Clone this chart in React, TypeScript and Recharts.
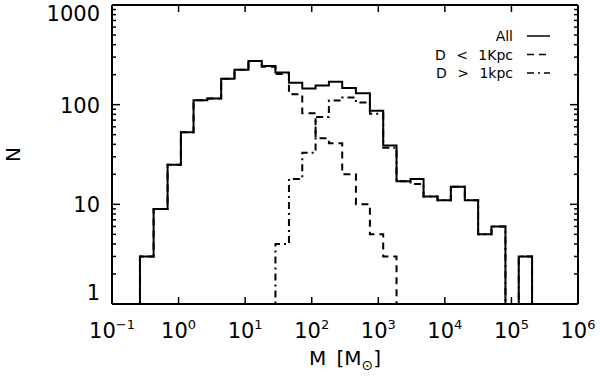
import React from 'react';
import { LineChart, Line, XAxis, YAxis, ReferenceLine, Legend } from 'recharts';

// log10(M) of the histogram bin edges
const binEdgesLog = [
  -0.58, -0.375, -0.165, 0.035, 0.225, 0.432, 0.64, 0.84, 1.05, 1.25,
  1.455, 1.658, 1.858, 2.058, 2.258, 2.458, 2.664, 2.874, 3.074, 3.274,
  3.484, 3.68, 3.89, 4.09, 4.3, 4.5, 4.7, 4.91, 5.11, 5.31,
];
// counts per bin (one fewer than edges)
const countsAll = [3, 9, 25, 53, 111, 115, 182, 224, 275, 244, 210, 166, 145, 156, 170, 147, 130, 87, 39, 17, 18, 12, 11, 15, 11, 5, 6, 0, 3];
const countsNear = [3, 9, 25, 53, 111, 115, 182, 224, 275, 240, 203, 127, 82, 46, 41, 20, 10, 5, 3, 0, 0, 0, 0, 0, 0, 0, 0, 0, 0];
const countsFar = [0, 0, 0, 0, 0, 0, 0, 0, 0, 0, 4, 18, 33, 75, 110, 118, 105, 81, 37, 17, 16, 12, 11, 15, 11, 5, 6, 0, 3];

const xDomain = [0.1, 1e6];
const yDomain = [1, 1000];
const xTicks = [0.1, 1, 10, 100, 1000, 1e4, 1e5, 1e6];
const yMajor = [1, 10, 100, 1000];
const yTicks = [
  1, 2, 3, 4, 5, 6, 7, 8, 9,
  10, 20, 30, 40, 50, 60, 70, 80, 90,
  100, 200, 300, 400, 500, 600, 700, 800, 900,
  1000,
];

const seriesDefs = [
  { key: 'all', name: 'All', dash: undefined as string | undefined },
  { key: 'near', name: 'D < 1Kpc', dash: '7 5' },
  { key: 'far', name: 'D > 1kpc', dash: '7 4 2 4' },
];

const W = 600;
const H = 376;
const MARGIN = { top: 5, right: 22, left: 0, bottom: 0 };
const YAXIS_W = 112;
const XAXIS_H = 72;
const PLOT_RIGHT = W - MARGIN.right;
const PLOT_TOP = MARGIN.top;
const FONT = '"DejaVu Sans", sans-serif';

const clip = (v: number | undefined) => Math.max(v ?? 0, yDomain[0]);

const data = [
  { m: xDomain[0], all: clip(0), near: clip(0), far: clip(0) },
  ...binEdgesLog.map((e, i) => ({
    m: Math.pow(10, e),
    all: clip(countsAll[i]),
    near: clip(countsNear[i]),
    far: clip(countsFar[i]),
  })),
  { m: xDomain[1], all: clip(0), near: clip(0), far: clip(0) },
];

const XTick = (props: any) => {
  const { x, y, payload } = props;
  const exp = Math.round(Math.log10(payload.value));
  const expStr = exp < 0 ? '\u2212' + Math.abs(exp) : String(exp);
  return (
    <g>
      <line x1={x} x2={x} y1={y} y2={y - 7} stroke="#000" strokeWidth={1.5} />
      <line x1={x} x2={x} y1={PLOT_TOP} y2={PLOT_TOP + 7} stroke="#000" strokeWidth={1.5} />
      <text x={x} y={y + 34} textAnchor="middle" fontFamily={FONT} fontSize={21} fill="#000">
        10
        <tspan dy={-9} fontSize={13}>{expStr}</tspan>
      </text>
    </g>
  );
};

const YTick = (props: any) => {
  const { x, y, payload } = props;
  const v = payload.value;
  const major = yMajor.includes(v);
  const len = major ? 8 : 4;
  let shift = 0;
  if (v === yDomain[0]) shift = -12;
  if (v === yDomain[1]) shift = 8;
  return (
    <g>
      <line x1={x} x2={x + len} y1={y} y2={y} stroke="#000" strokeWidth={1.5} />
      <line x1={PLOT_RIGHT} x2={PLOT_RIGHT - len} y1={y} y2={y} stroke="#000" strokeWidth={1.5} />
      {major && (
        <text x={x - 12} y={y + shift + 8} textAnchor="end" fontFamily={FONT} fontSize={21} fill="#000">
          {v}
        </text>
      )}
    </g>
  );
};

const LegendContent = () => (
  <svg width={150} height={70} style={{ overflow: 'visible' }}>
    {seriesDefs.map((s, i) => {
      const cy = 12 + i * 18.5;
      return (
        <g key={s.key}>
          <text x={93} y={cy + 5} textAnchor="end" fontFamily={FONT} fontSize={14} fill="#000" style={{ wordSpacing: 6 }}>
            {s.name}
          </text>
          <line x1={107} x2={130} y1={cy} y2={cy} stroke="#000" strokeWidth={1.5} strokeDasharray={s.dash} />
        </g>
      );
    })}
  </svg>
);

export default function App() {
  return (
    <div style={{ position: 'absolute', left: 0, top: 0, background: '#fff' }}>
      <LineChart width={W} height={H} data={data} margin={MARGIN}>
        <XAxis
          dataKey="m"
          type="number"
          scale="log"
          domain={xDomain}
          ticks={xTicks}
          allowDataOverflow
          height={XAXIS_H}
          tickSize={0}
          tickMargin={0}
          tick={<XTick />}
          tickLine={false}
          axisLine={{ stroke: '#000', strokeWidth: 2 }}
          interval={0}
          label={{
            content: (p: any) => {
              const vb = p.viewBox || { x: 112, width: 466, y: 304 };
              return (
                <text
                  x={vb.x + vb.width / 2}
                  y={365}
                  textAnchor="middle"
                  fontFamily={FONT}
                  fontSize={20}
                  fill="#000"
                  style={{ wordSpacing: 4 }}
                >
                  M [M
                  <tspan dy={5} fontSize={14}>{'\u2299'}</tspan>
                  <tspan dy={-5}>]</tspan>
                </text>
              );
            },
          }}
        />
        <YAxis
          type="number"
          scale="log"
          domain={yDomain}
          ticks={yTicks}
          allowDataOverflow
          width={YAXIS_W}
          tickSize={0}
          tickMargin={0}
          tick={<YTick />}
          tickLine={false}
          axisLine={{ stroke: '#000', strokeWidth: 2 }}
          interval={0}
          label={{
            content: (p: any) => {
              const vb = p.viewBox || { y: 5, height: 299 };
              const cy = vb.y + vb.height / 2;
              return (
                <text
                  x={13}
                  y={cy}
                  transform={`rotate(-90 13 ${cy})`}
                  textAnchor="middle"
                  dominantBaseline="central"
                  fontFamily={FONT}
                  fontSize={20}
                  fill="#000"
                >
                  N
                </text>
              );
            },
          }}
        />
        <ReferenceLine y={yDomain[1]} stroke="#000" strokeWidth={2} />
        <ReferenceLine x={xDomain[1]} stroke="#000" strokeWidth={2} />
        <Line type="stepAfter" dataKey="far" name="D > 1kpc" stroke="#000" strokeWidth={2} strokeDasharray="7 4 2 4" dot={false} isAnimationActive={false} />
        <Line type="stepAfter" dataKey="near" name="D < 1Kpc" stroke="#000" strokeWidth={2} strokeDasharray="7 5" dot={false} isAnimationActive={false} />
        <Line type="stepAfter" dataKey="all" name="All" stroke="#000" strokeWidth={2} dot={false} isAnimationActive={false} />
        <Legend
          layout="vertical"
          verticalAlign="middle"
          align="center"
          content={<LegendContent />}
          wrapperStyle={{ left: 420, top: 24, width: 150, height: 70 }}
        />
      </LineChart>
    </div>
  );
}
